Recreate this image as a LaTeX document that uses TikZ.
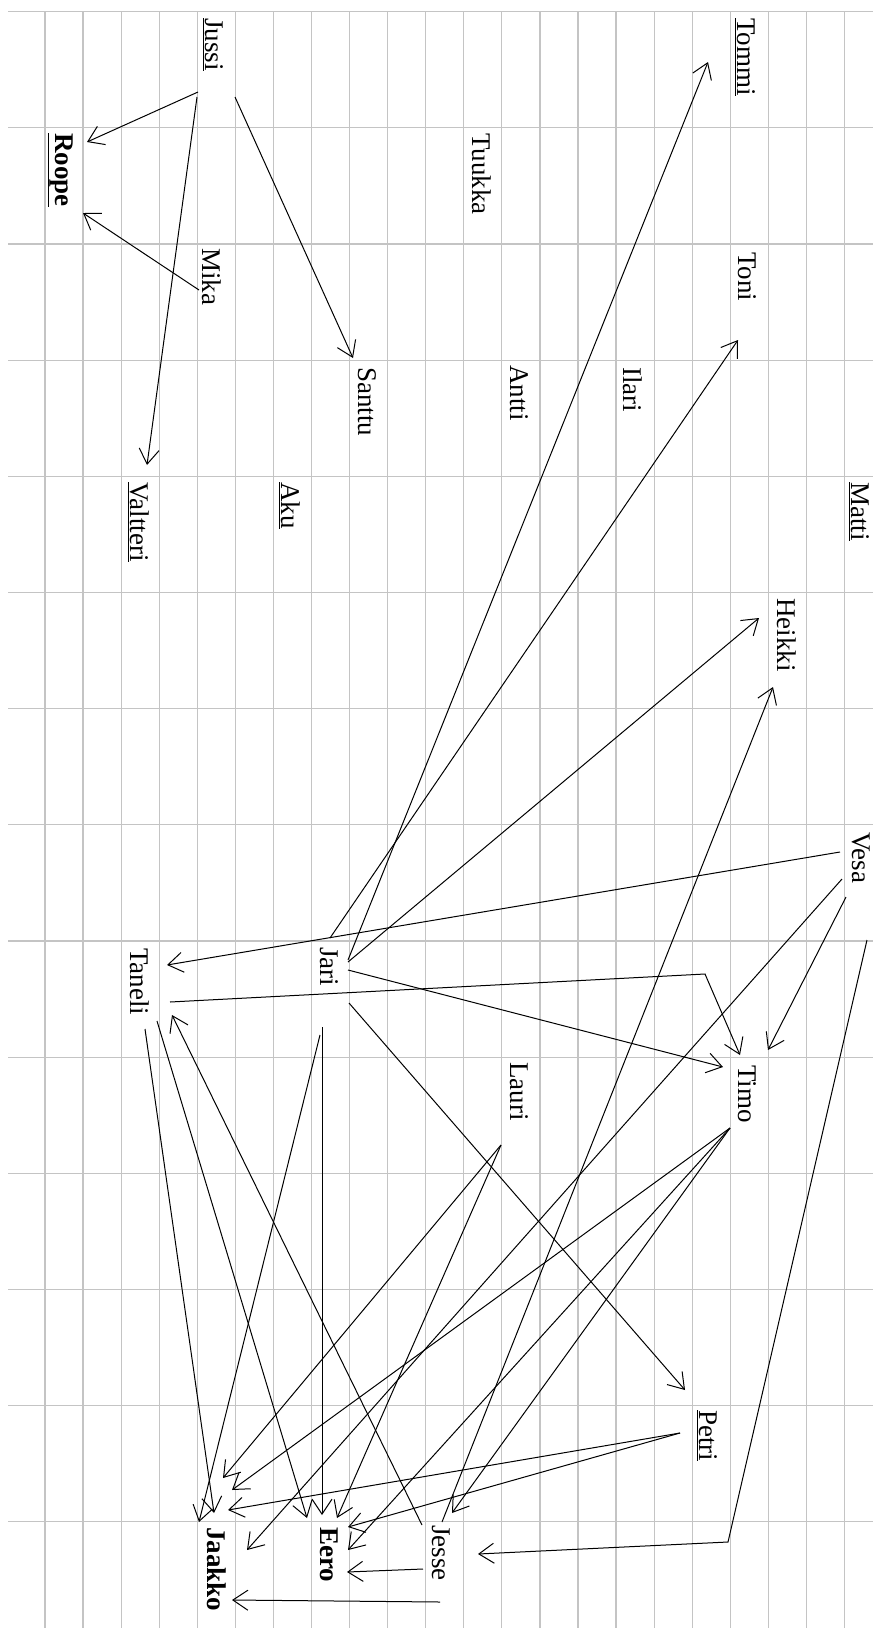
\documentclass[tikz,border=0pt]{standalone}
\usepackage{fontspec}
\setmainfont{Liberation Serif}
\usepackage{tikz}
\usetikzlibrary{arrows.meta}
\usepackage{xcolor}
\definecolor{gridgray}{RGB}{196,196,196}
\newcommand{\uname}[1]{\underline{#1}}

\begin{document}
\begin{tikzpicture}[
  x=1pt, y=-1pt,
  pupil/.style={rotate=-90, anchor=base west, inner sep=0pt,
                font=\fontsize{27}{30}\selectfont},
  chosen/.style={pupil, font=\fontsize{27}{30}\selectfont\bfseries},
  gridline/.style={draw=gridgray, line width=1.2pt},
  pick/.style={-{Straight Barb[length=15pt,width=20pt]}, line width=1pt},
  >=Stealth
]
  \useasboundingbox[fill=white] (0,0) rectangle (873,1628);

  % Squared paper
  \foreach \i in {0,...,21}
    \draw[gridline] ({45+38.07*\i},11.7) -- ({45+38.07*\i},1628);
  \foreach \j in {0,...,13}
    \draw[gridline] (8,{11.7+116.16*\j}) -- (873,{11.7+116.16*\j});

  % Pupils, upper part
  \node[pupil] (jussi) at (205,18) {\uname{Jussi}};
  \node[chosen] (roope) at (55,133) {\uname{Roope}};
  \node[pupil] (mika) at (202,248) {Mika};
  \node[pupil] (santtu) at (358,367) {Santtu};
  \node[pupil] (valtteri) at (130,482) {\uname{Valtteri}};
  \node[pupil] (aku) at (281,482) {\uname{Aku}};
  \node[pupil] (tommi) at (737,18) {\uname{Tommi}};
  \node[pupil] (tuukka) at (472,133) {Tuukka};
  \node[pupil] (toni) at (738,252) {Toni};
  \node[pupil] (antti) at (510,365) {Antti};
  \node[pupil] (ilari) at (623,367) {Ilari};
  \node[pupil] (matti) at (851,482) {\uname{Matti}};
  \node[pupil] (heikki) at (777,598) {Heikki};

  % Pupils, lower part
  \node[pupil] (vesa) at (852,832) {Vesa};
  \node[pupil] (jari) at (320,947) {Jari};
  \node[pupil] (taneli) at (130,948) {Taneli};
  \node[pupil] (timo) at (738,1065) {Timo};
  \node[pupil] (lauri) at (510,1062) {Lauri};
  \node[pupil] (petri) at (699,1410) {\uname{Petri}};
  \node[pupil] (jesse) at (432,1525) {Jesse};
  \node[chosen] (jaakko) at (207,1527) {Jaakko};
  \node[chosen] (eero) at (320,1527) {Eero};

  % Bends
  \coordinate (tanbend) at (705,974);
  \coordinate (vesbend) at (728,1542);

  % Choices
  \draw[pick] ([shift={(-7,74)}]jussi.base west) -- ([shift={(32,9)}]roope.base west);
  \draw[pick] ([shift={(-8,79)}]jussi.base west) -- ([shift={(17,-17)}]valtteri.base west);
  \draw[pick] ([shift={(30,79)}]jussi.base west) -- ([shift={(-5,-9)}]santtu.base west);
  \draw[pick] ([shift={(-3,42)}]mika.base west) -- ([shift={(28,80)}]roope.base west);

  \draw[pick] ([shift={(28,13)}]jari.base west) -- ([shift={(-29,44)}]tommi.base west);
  \draw[pick] ([shift={(10,-9)}]jari.base west) -- ([shift={(0,88)}]toni.base west);
  \draw[pick] ([shift={(28,15)}]jari.base west) -- ([shift={(-18,20)}]heikki.base west);
  \draw[pick] ([shift={(28,23)}]jari.base west) -- ([shift={(-15,2)}]timo.base west);
  \draw[pick] ([shift={(29,56)}]jari.base west) -- ([shift={(-14,-20)}]petri.base west);
  \draw[pick] ([shift={(2,80)}]jari.base west) -- ([shift={(2,-12)}]eero.base west);
  \draw[pick] ([shift={(0,88)}]jari.base west) -- ([shift={(-8,-5)}]jaakko.base west);

  \draw[pick] ([shift={(40,54)}]taneli.base west) -- (tanbend) -- ([shift={(2,-10)}]timo.base west);
  \draw[pick] ([shift={(15,81)}]taneli.base west) -- ([shift={(7,-14)}]jaakko.base west);
  \draw[pick] ([shift={(27,73)}]taneli.base west) -- ([shift={(-13,-9)}]eero.base west);

  \draw[pick] ([shift={(-12,20)}]vesa.base west) -- ([shift={(37,17)}]taneli.base west);
  \draw[pick] ([shift={(-6,65)}]vesa.base west) -- ([shift={(30,-15)}]timo.base west);
  \draw[pick] ([shift={(-10,47)}]vesa.base west) -- ([shift={(40,23)}]jaakko.base west);
  \draw[pick] ([shift={(15,108)}]vesa.base west) -- (vesbend) -- ([shift={(46,29)}]jesse.base west);

  \draw[pick] ([shift={(-10,0)}]jesse.base west) -- ([shift={(42,67)}]taneli.base west);
  \draw[pick] ([shift={(10,-3)}]jesse.base west) -- ([shift={(-4,89)}]heikki.base west);
  \draw[pick] ([shift={(-9,44)}]jesse.base west) -- ([shift={(27,45)}]eero.base west);
  \draw[pick] ([shift={(8,77)}]jesse.base west) -- ([shift={(25,73)}]jaakko.base west);

  \draw[pick] ([shift={(-9,83)}]lauri.base west) -- ([shift={(16,-49)}]jaakko.base west);
  \draw[pick] ([shift={(-9,83)}]lauri.base west) -- ([shift={(17,-9)}]eero.base west);

  \draw[pick] ([shift={(-8,63)}]timo.base west) -- ([shift={(25,-37)}]jaakko.base west);
  \draw[pick] ([shift={(-8,63)}]timo.base west) -- ([shift={(28,23)}]eero.base west);
  \draw[pick] ([shift={(-8,63)}]timo.base west) -- ([shift={(20,-12)}]jesse.base west);

  \draw[pick] ([shift={(-19,23)}]petri.base west) -- ([shift={(21,-17)}]jaakko.base west);
  \draw[pick] ([shift={(-19,23)}]petri.base west) -- ([shift={(28,0)}]eero.base west);
\end{tikzpicture}
\end{document}
